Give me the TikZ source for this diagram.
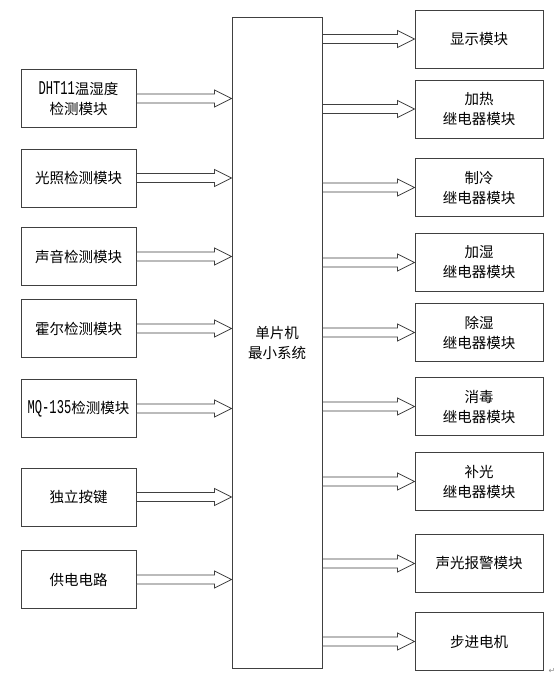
\documentclass[tikz,border=0pt]{standalone}
\usepackage{fontspec}
\setmainfont{Noto Sans CJK SC}
\newfontfamily\cjk{Noto Sans CJK SC}
\newfontfamily\lat[FakeStretch=0.62]{Liberation Mono}
\newfontfamily\symf{DejaVu Sans}
\usetikzlibrary{calc}
\newcommand{\latt}[1]{{\lat\fontsize{19.5}{20}\selectfont #1}}
\begin{document}
\begin{tikzpicture}[x=1pt,y=-1pt,
  box/.style={draw=black!75,line width=0.9pt,fill=white,inner sep=0pt,
    align=center,font=\cjk\fontsize{14.5}{20}\selectfont},
  lbox/.style={box,minimum width=115pt,minimum height=58pt},
  rbox/.style={box,minimum width=128pt,minimum height=58pt},
  fat/.style={draw=black!75,line width=0.8pt,fill=white,line join=miter,
    to path={let \p1=(\tikztostart), \p2=(\tikztotarget) in
      (\x1,\y1+4.5pt) -- (\x2-17pt,\y1+4.5pt) -- (\x2-17pt,\y1+8.5pt) --
      (\x2,\y1) -- (\x2-17pt,\y1-8.5pt) -- (\x2-17pt,\y1-4.5pt) --
      (\x1,\y1-4.5pt) -- cycle}}]
\useasboundingbox (0,0) rectangle (558,676);
\fill[white] (0,0) rectangle (558,676);
% central box
\node[box,minimum width=90pt,minimum height=651pt] (mcu) at (277,342.5) {单片机\\最小系统};
% left boxes
\node[lbox] (l1) at (78.5,98.5) {\latt{DHT11}温湿度\\检测模块};
\node[lbox] (l2) at (78.5,178) {光照检测模块};
\node[lbox] (l3) at (78.5,256.5) {声音检测模块};
\node[lbox] (l4) at (78.5,328.5) {霍尔检测模块};
\node[lbox] (l5) at (78.5,408.5) {\latt{MQ-135}检测模块};
\node[lbox] (l6) at (78.5,497) {独立按键};
\node[lbox] (l7) at (78.5,579.5) {供电电路};
% right boxes
\node[rbox] (r1) at (479,39) {显示模块};
\node[rbox] (r2) at (479,109) {加热\\继电器模块};
\node[rbox] (r3) at (479,187.5) {制冷\\继电器模块};
\node[rbox] (r4) at (479,262.5) {加湿\\继电器模块};
\node[rbox] (r5) at (479,332.5) {除湿\\继电器模块};
\node[rbox] (r6) at (479,406.5) {消毒\\继电器模块};
\node[rbox] (r7) at (479,481.5) {补光\\继电器模块};
\node[rbox] (r8) at (479,563.5) {声光报警模块};
\node[rbox] (r9) at (479,641.5) {步进电机};
% arrows
\foreach \k in {l1,l2,l3,l4,l5,l6,l7}
  \draw[fat] (\k.east) to (mcu.west |- \k.east);
\foreach \k in {r1,r2,r3,r4,r5,r6,r7,r8,r9}
  \draw[fat] (mcu.east |- \k.west) to (\k.west);
\node[font=\symf\fontsize{8}{8}\selectfont,text=black!45,inner sep=0pt] (ret) at (552,671) {↵};
\end{tikzpicture}
\end{document}
